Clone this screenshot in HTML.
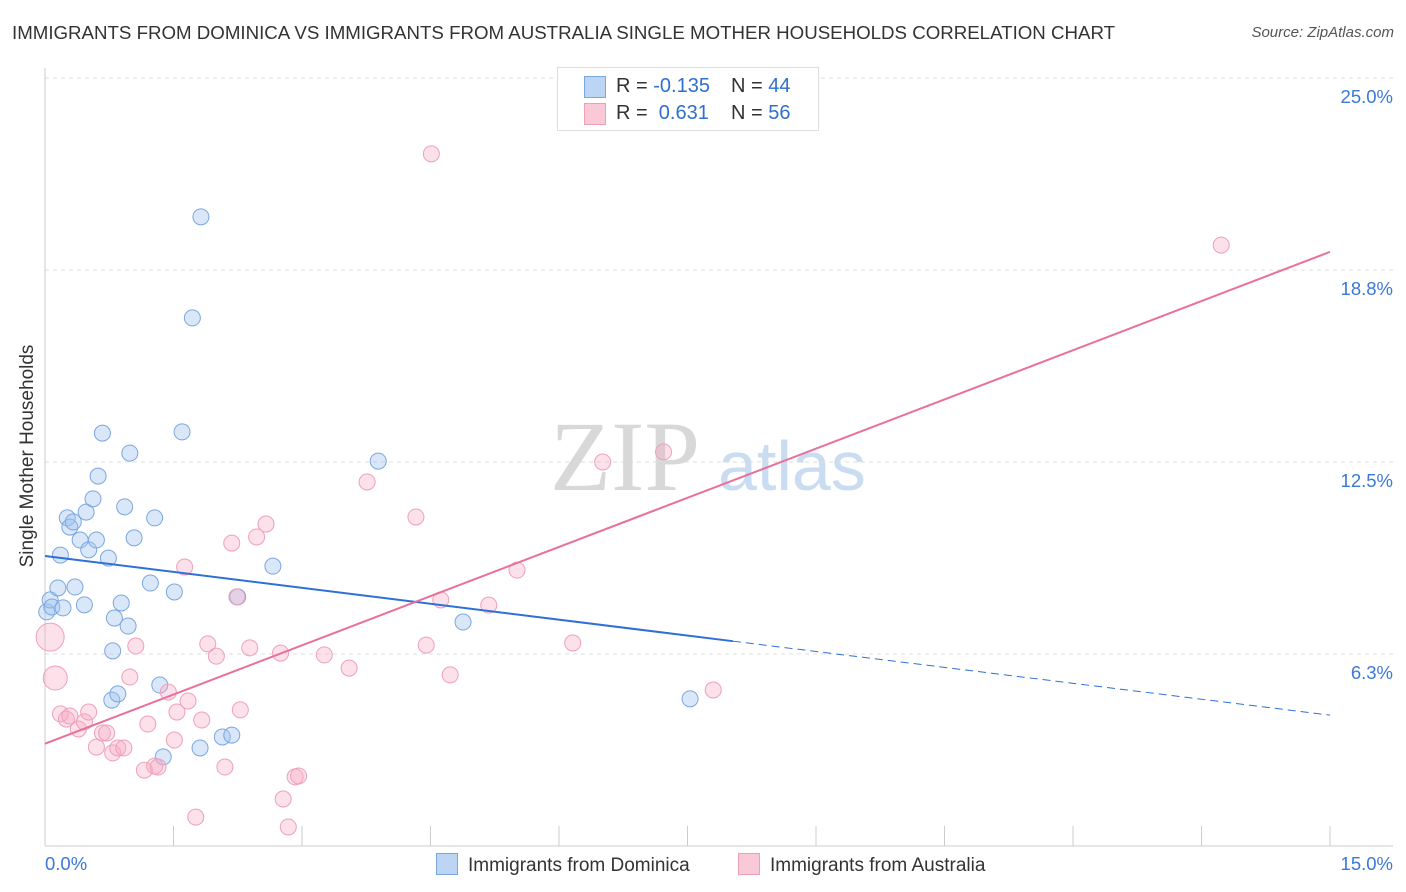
<!DOCTYPE html>
<html><head><meta charset="utf-8"><style>
body{margin:0;background:#fff;font-family:"Liberation Sans",sans-serif;}
#wrap{position:relative;width:1406px;height:892px;overflow:hidden;}
.t{position:absolute;white-space:nowrap;}
</style></head><body>
<div id="wrap">
<div class="t" style="left:12px;top:22px;font-size:18.7px;color:#333">IMMIGRANTS FROM DOMINICA VS IMMIGRANTS FROM AUSTRALIA SINGLE MOTHER HOUSEHOLDS CORRELATION CHART</div>
<div class="t" style="right:12px;top:24px;font-size:15px;color:#555;font-style:italic">Source: ZipAtlas.com</div>
<svg id="svg" width="1406" height="892" style="position:absolute;left:0;top:0"></svg>
<div class="t" style="left:557px;top:67px;width:260px;height:62px;border:1px solid #ddd;background:#fff;font-size:20px">
 <div style="position:absolute;left:26px;top:8px;width:20px;height:20px;background:#bcd5f5;border:1px solid #7aa7e0"></div>
 <div style="position:absolute;left:58px;top:7px;color:#333">R = <span style="color:#2f6fd0">-0.135</span></div>
 <div style="position:absolute;left:173px;top:7px;color:#333">N = <span style="color:#2f6fd0">44</span></div>
 <div style="position:absolute;left:26px;top:35px;width:20px;height:20px;background:#f9c9d7;border:1px solid #eea0b8"></div>
 <div style="position:absolute;left:58px;top:34px;color:#333">R = &nbsp;<span style="color:#2f6fd0">0.631</span></div>
 <div style="position:absolute;left:173px;top:34px;color:#333">N = <span style="color:#2f6fd0">56</span></div>
</div>
<div class="t" style="left:436px;top:853px;font-size:19px;color:#333"><span style="display:inline-block;width:20px;height:20px;background:#bcd5f5;border:1px solid #7aa7e0;vertical-align:-4px;margin-right:10px"></span>Immigrants from Dominica</div>
<div class="t" style="left:738px;top:853px;font-size:19px;color:#333"><span style="display:inline-block;width:20px;height:20px;background:#f9c9d7;border:1px solid #eea0b8;vertical-align:-4px;margin-right:10px"></span>Immigrants from Australia</div>
<div class="t" style="top:456px;font-size:19px;color:#333;transform:translate(-50%,-50%) rotate(-90deg);transform-origin:center;left:28px">Single Mother Households</div>
</div>
<script>
const xTicksLabels=["0.0%","15.0%"];
const yTickVals=[6.25,12.5,18.75,25];
const yTickLabels=["6.3%","12.5%","18.8%","25.0%"];
const blueX=[0.02,0.06,0.08,0.15,0.21,0.18,0.26,0.29,0.33,0.35,0.41,0.46,0.48,0.51,0.56,0.60,0.62,0.67,0.74,0.78,0.79,0.81,0.85,0.89,0.93,0.97,0.99,1.04,1.23,1.28,1.34,1.38,1.51,1.60,1.72,1.81,1.82,2.07,2.18,2.25,2.66,3.89,4.88,7.53];
const blueY=[7.62,8.01,7.78,8.40,7.75,9.47,10.68,10.38,10.55,8.43,9.96,7.85,10.87,9.64,11.30,9.96,12.04,13.44,9.37,4.75,6.35,7.42,4.95,7.91,11.04,7.16,12.79,10.03,8.56,10.68,5.24,2.90,8.27,13.48,17.19,3.19,20.48,3.55,3.61,8.11,9.11,12.53,7.29,4.79];
const pinkX=[0.06,0.12,0.18,0.25,0.29,0.39,0.46,0.51,0.60,0.67,0.72,0.79,0.85,0.92,0.99,1.06,1.16,1.20,1.28,1.32,1.44,1.51,1.54,1.63,1.67,1.76,1.83,1.90,2.00,2.10,2.18,2.24,2.28,2.39,2.47,2.58,2.75,2.78,2.84,2.92,2.96,3.26,3.55,3.76,4.33,4.45,4.62,4.73,5.18,5.51,6.16,6.51,7.22,7.80,4.51,13.73];
const pinkY=[6.80,5.47,4.30,4.13,4.23,3.81,4.04,4.36,3.22,3.68,3.68,3.03,3.19,3.19,5.50,6.51,2.47,3.97,2.60,2.57,5.01,3.45,4.36,9.08,4.72,0.94,4.10,6.58,6.18,2.57,9.86,8.11,4.43,6.45,10.06,10.48,6.28,1.53,0.62,2.25,2.28,6.22,5.79,11.85,10.71,6.54,8.01,5.57,7.84,8.98,6.61,12.50,12.83,5.08,22.53,19.56];
const pinkSize=[14,12];
const blueTrend=[9.44,4.26], blueSolidEnd=8.03;
const pinkTrend=[3.33,19.34];
const NS="http://www.w3.org/2000/svg";
const svg=document.getElementById('svg');
const X=v=>45+v/15*1285, Y=v=>846-v*30.72;
function mk(t,a){const e=document.createElementNS(NS,t);for(const k in a)e.setAttribute(k,a[k]);svg.appendChild(e);return e;}
let w=mk('text',{x:550,y:490,'font-size':100,'font-family':'Liberation Serif',fill:'#d8d8d8'});w.textContent='ZIP';


let w2=mk('text',{x:718,y:490,'font-size':70,'font-family':'Liberation Sans',fill:'#c9dcf2'});w2.textContent='atlas';


yTickVals.forEach((v,i)=>{
 const g=mk('line',{x1:45,x2:1393,y1:Y(v),y2:Y(v),stroke:'#ddd','stroke-dasharray':'4,4'});
 
 
 const t=mk('text',{x:1393,y:Y(v)+25,'text-anchor':'end','font-size':18.5,fill:'#3b78d8'});t.textContent=yTickLabels[i];
 
 
});
const ax=mk('line',{x1:45,x2:45,y1:68,y2:846,stroke:'#ccc'});


const bx=mk('line',{x1:45,x2:1393,y1:846,y2:846,stroke:'#ccc'});


for(let i=1;i<=10;i++){const tk=mk('line',{x1:X(i*1.5),x2:X(i*1.5),y1:826,y2:846,stroke:'#ccc'});
 
 }
[[45,'start',0],[1393,'end',1]].forEach(([x,a,i])=>{const t=mk('text',{x:x,y:870,'text-anchor':a,'font-size':18.5,fill:'#3b78d8'});t.textContent=xTicksLabels[i];
 
 });
blueX.forEach((x,i)=>{const c=mk('circle',{cx:X(x),cy:Y(blueY[i]),r:8,fill:'rgba(160,196,240,0.4)',stroke:'#7aa7e0','stroke-width':1});
 
 });
pinkX.forEach((x,i)=>{const c=mk('circle',{cx:X(x),cy:Y(pinkY[i]),r:pinkSize[i]||8,fill:'rgba(245,170,195,0.35)',stroke:'#eea0b8','stroke-width':1});
 
 });
const by=x=>blueTrend[0]+(blueTrend[1]-blueTrend[0])*x/15;
const l1=mk('line',{x1:X(0),y1:Y(by(0)),x2:X(blueSolidEnd),y2:Y(by(blueSolidEnd)),stroke:'#2f6fd8','stroke-width':2});


const l2=mk('line',{x1:X(blueSolidEnd),y1:Y(by(blueSolidEnd)),x2:X(15),y2:Y(by(15)),stroke:'#2f6fd8','stroke-width':1,'stroke-dasharray':'8,5'});


const l3=mk('line',{x1:X(0),y1:Y(pinkTrend[0]),x2:X(15),y2:Y(pinkTrend[1]),stroke:'#e8709a','stroke-width':2});


</script>
</body></html>
